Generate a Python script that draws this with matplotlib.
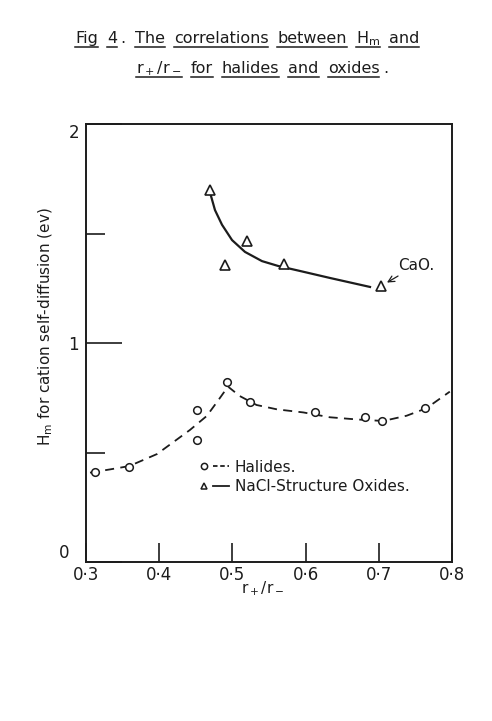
import numpy as np
import matplotlib.pyplot as plt
from matplotlib.lines import Line2D
from matplotlib.legend_handler import HandlerTuple
from matplotlib.transforms import ScaledTranslation

hal_x = [0.312, 0.359, 0.451, 0.451, 0.492, 0.524, 0.613, 0.681, 0.704, 0.763]
hal_y = [0.412, 0.435, 0.694, 0.557, 0.823, 0.732, 0.686, 0.663, 0.645, 0.702]
# hand drawn dashed trend through the halides
hal_curve_x = [0.3055, 0.333, 0.359, 0.397, 0.442, 0.465, 0.481, 0.494, 0.510,
               0.533, 0.561, 0.597, 0.633, 0.670, 0.706, 0.738, 0.765, 0.797]
hal_curve_y = [0.408, 0.423, 0.438, 0.493, 0.603, 0.667, 0.740, 0.801, 0.758,
               0.717, 0.697, 0.683, 0.661, 0.651, 0.644, 0.668, 0.702, 0.778]

oxi_x = [0.469, 0.520, 0.490, 0.571, 0.703]
oxi_y = [1.699, 1.466, 1.356, 1.359, 1.260]
# hand drawn solid trend through the oxides
oxi_curve_x = [0.4708, 0.4762, 0.4858, 0.4995, 0.5172, 0.5404, 0.5623, 0.5923, 0.6333, 0.688]
oxi_curve_y = [1.671, 1.607, 1.540, 1.470, 1.416, 1.374, 1.352, 1.329, 1.297, 1.256]

xticks = [0.3, 0.4, 0.5, 0.6, 0.7, 0.8]
xtick_labels = ['0·3', '0·4', '0·5', '0·6', '0·7', '0·8']
ymajor = [0, 1, 2]
ymajor_labels = ['0', '1', '2']
yminor = [0.5, 1.5]

title_lines = [
    [('Fig', True), ('4', True), ('.', False), ('The', True), ('correlations', True),
     ('between', True), ('H$_\\mathrm{m}$', True), ('and', True)],
    [('r$_+$/r$_-$', True), ('for', True), ('halides', True), ('and', True),
     ('oxides', True), ('.', False)],
]

ink = '#1c1c1c'
plt.rcParams['font.family'] = 'DejaVu Sans'
plt.rcParams['mathtext.fontset'] = 'dejavusans'

fig = plt.figure(figsize=(4.92, 7.21), dpi=100)
ax = fig.add_axes([0.1748, 0.2205, 0.7439, 0.6075])
ax.set_xlim(0.3, 0.8)
ax.set_ylim(0, 2)

ax.plot(hal_curve_x, hal_curve_y, color=ink, lw=1.3, ls=(0, (5, 3.5)), zorder=2)
ax.plot(hal_x, hal_y, 'o', ms=5.5, mfc='white', mec=ink, mew=1.1, zorder=3)
ax.plot(oxi_curve_x, oxi_curve_y, color=ink, lw=1.6, zorder=2)
ax.plot(oxi_x, oxi_y, '^', ms=7, mfc='white', mec=ink, mew=1.2, zorder=3)

ax.annotate('CaO.', xy=(oxi_x[-1], oxi_y[-1]), xytext=(0.727, 1.356),
            fontsize=11, color=ink, ha='left', va='center',
            arrowprops=dict(arrowstyle='->', color=ink, lw=0.9,
                            shrinkA=1, shrinkB=5))

for s in ax.spines.values():
    s.set_linewidth(1.4)
    s.set_color(ink)

ax.set_xticks(xticks)
ax.set_xticklabels(xtick_labels)
ax.set_yticks(ymajor)
ax.set_yticklabels(ymajor_labels)
ax.set_yticks(yminor, minor=True)
ax.tick_params(axis='x', direction='in', length=14, width=1.2, color=ink,
               labelsize=12, labelcolor=ink, pad=3)
ax.tick_params(axis='y', which='major', direction='in', length=26, width=1.2,
               color=ink, labelsize=12, labelcolor=ink, pad=5)
ax.tick_params(axis='y', which='minor', direction='in', length=14, width=1.2,
               color=ink)

# the hand lettered 0 and 2 sit inside the corners, 0 further left
ylabs = ax.get_yticklabels()
ylabs[0].set_va('bottom')
ylabs[0].set_transform(ylabs[0].get_transform()
                       + ScaledTranslation(-10 / 100, 0, fig.dpi_scale_trans))
ylabs[2].set_va('top')

ax.set_xlabel('r$_+$/r$_-$', fontsize=11, color=ink)
ax.xaxis.set_label_coords(0.484, -0.04)
ax.set_ylabel('H$_\\mathrm{m}$ for cation self-diffusion (ev)', fontsize=11, color=ink)
ax.yaxis.set_label_coords(-0.085, 0.537)

h_mark = Line2D([], [], marker='o', ls='none', ms=4.5, mfc='white', mec=ink, mew=1.1)
h_line = Line2D([], [], color=ink, lw=1.3, ls=(0, (2.5, 1.5)))
o_mark = Line2D([], [], marker='^', ls='none', ms=5, mfc='white', mec=ink, mew=1.1)
o_line = Line2D([], [], color=ink, lw=1.3)
leg = ax.legend([(h_mark, h_line), (o_mark, o_line)],
                ['Halides.', 'NaCl-Structure Oxides.'],
                handler_map={tuple: HandlerTuple(ndivide=None, pad=0)},
                loc='center left', bbox_to_anchor=(0.30, 0.194), frameon=False,
                fontsize=11, handlelength=2.2, handletextpad=0.35,
                labelspacing=0.3, borderpad=0, borderaxespad=0)
for t in leg.get_texts():
    t.set_color(ink)

# title: words drawn one by one, each underlined like the lettering stencil
fig.canvas.draw()
renderer = fig.canvas.get_renderer()
W, H = fig.bbox.width, fig.bbox.height
line_centers = [250, 265]
baselines = [43, 73]
gap = 9
for words, cx, base in zip(title_lines, line_centers, baselines):
    texts = []
    for w, ul in words:
        t = fig.text(0, 1 - base / H, w, fontsize=11.5, color=ink,
                     ha='left', va='baseline')
        texts.append((t, ul, t.get_window_extent(renderer).width))
    total = sum(wd for _, _, wd in texts) + gap * (len(texts) - 1)
    x = cx - total / 2
    for i, (t, ul, wd) in enumerate(texts):
        if words[i][0] == '.':
            x -= gap * 0.6
        t.set_x(x / W)
        if ul:
            yy = 1 - (base + 4) / H
            fig.add_artist(Line2D([x / W, (x + wd) / W], [yy, yy],
                                  transform=fig.transFigure, color=ink, lw=1.1))
        x += wd + gap

fig.savefig('out.png', dpi=100)
